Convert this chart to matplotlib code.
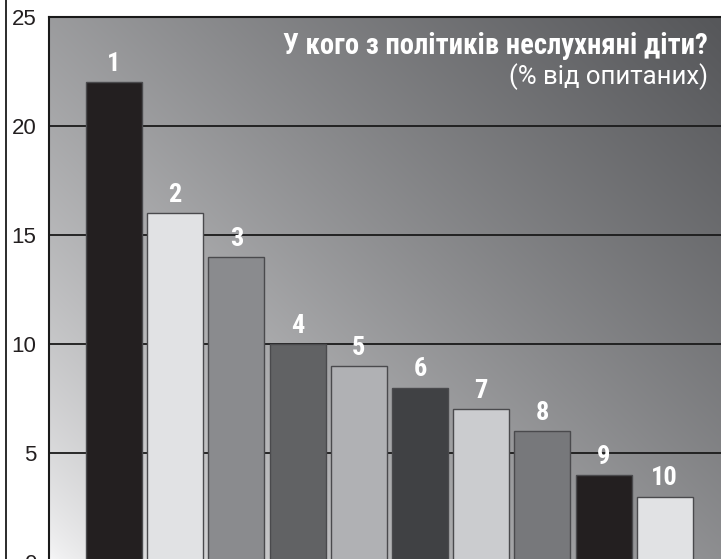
import matplotlib
matplotlib.use("Agg")
import matplotlib.pyplot as plt
import numpy as np
from matplotlib import font_manager as fm
from matplotlib.lines import Line2D

categories = ["1", "2", "3", "4", "5", "6", "7", "8", "9", "10"]
values = [22, 16, 14, 10, 9, 8, 7, 6, 4, 3]
bar_colors = ["#231f20", "#e1e2e4", "#8a8b8e", "#616264", "#b0b1b4",
              "#404144", "#cbcccf", "#77787b", "#231f20", "#e1e2e4"]
yticks = [0, 5, 10, 15, 20, 25]
title = "У кого з політиків неслухняні діти?"
subtitle = "(% від опитаних)"

names = {f.name for f in fm.fontManager.ttflist}
cond = "Roboto"
for cand in ["Roboto Condensed", "Liberation Sans Narrow", "Open Sans Condensed"]:
    if cand in names:
        cond = cand
        break
plain = "Liberation Sans" if "Liberation Sans" in names else "DejaVu Sans"
sub_font = "Roboto" if "Roboto" in names else plain

W, H = 721, 559
fig = plt.figure(figsize=(W / 100, H / 100), dpi=100)
fig.patch.set_facecolor("white")
ax = fig.add_axes([49 / W, -3 / H, 1 - 49 / W + 0.01, (H - 17 + 3) / H])

# gradient background
nx, ny = 300, 300
xx, yy = np.meshgrid(np.linspace(0, 1, nx), np.linspace(0, 1, ny))
d = 0.55 * xx + 0.45 * yy
t = d ** 0.7
light = np.array([248, 248, 249]) / 255
dark = np.array([85, 86, 89]) / 255
img = light[None, None, :] + (dark - light)[None, None, :] * t[..., None]
ax.imshow(img, extent=[0, 1, 0, 1], transform=ax.transAxes, origin="lower",
          aspect="auto", zorder=0, interpolation="bilinear")

x = np.arange(1, len(values) + 1)
ax.set_xlim(-0.063, 10.92 + 0.01 * W / 61.17)
ax.set_ylim(0, 25)

for yv in yticks[1:-1]:
    ax.axhline(yv, color="#1a1a1a", lw=1.3, zorder=1)

ax.bar(x, values, width=0.915, color=bar_colors, edgecolor="#4a4a4d",
       linewidth=1.0, zorder=2)

for xi, v, lab in zip(x, values, categories):
    ax.annotate(lab, (xi, v), xytext=(0, 4.5), textcoords="offset points",
                ha="center", va="bottom", color="white", fontsize=19,
                fontweight="bold", family=cond, zorder=3)

ax.set_yticks(yticks)
ax.set_yticklabels([str(v) for v in yticks], fontsize=16, family=plain,
                   color="#231f20")
ax.tick_params(axis="y", length=0, pad=9)
ax.set_xticks([])
for s in ["right", "bottom"]:
    ax.spines[s].set_visible(False)
for s in ["left", "top"]:
    ax.spines[s].set_color("#1a1a1a")
    ax.spines[s].set_linewidth(1.5)

fig.text(708 / W, 1 - 46 / H, title, ha="right", va="center", color="white",
         fontsize=20.6, fontweight="bold", family=cond)
fig.text(708 / W, 1 - 77 / H, subtitle, ha="right", va="center", color="white",
         fontsize=18.5, family=sub_font)

fig.add_artist(Line2D([5.5 / W, 5.5 / W], [0, 1], color="#1a1a1a", lw=1.3,
                      transform=fig.transFigure))

fig.savefig("out.png", dpi=100)
